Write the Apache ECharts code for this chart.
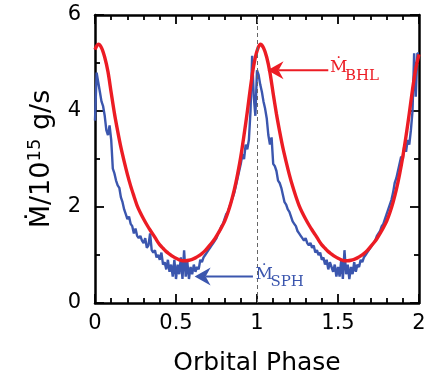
<!DOCTYPE html>
<html>
<head>
<meta charset="utf-8">
<script src="https://cdn.jsdelivr.net/npm/echarts@6/dist/echarts.min.js"></script>
<style>
  html, body { margin: 0; padding: 0; background: #fff; }
  #chart { width: 441px; height: 381px; }
</style>
</head>
<body>
<div id="chart"></div>
<script>
// Bondi-Hoyle-Lyttleton accretion rate (smooth model), sampled every 0.02 in phase
const bhlPhase = [
  0.00, 0.02, 0.04, 0.06, 0.08, 0.10, 0.12, 0.14, 0.16, 0.18,
  0.20, 0.22, 0.24, 0.26, 0.28, 0.30, 0.32, 0.34, 0.36, 0.38,
  0.40, 0.42, 0.44, 0.46, 0.48, 0.50, 0.52, 0.54, 0.56, 0.58,
  0.60, 0.62, 0.64, 0.66, 0.68, 0.70, 0.72, 0.74, 0.76, 0.78,
  0.80, 0.82, 0.84, 0.86, 0.88, 0.90, 0.92, 0.94, 0.96, 0.98,
  1.00, 1.02, 1.04, 1.06, 1.08, 1.10, 1.12, 1.14, 1.16, 1.18,
  1.20, 1.22, 1.24, 1.26, 1.28, 1.30, 1.32, 1.34, 1.36, 1.38,
  1.40, 1.42, 1.44, 1.46, 1.48, 1.50, 1.52, 1.54, 1.56, 1.58,
  1.60, 1.62, 1.64, 1.66, 1.68, 1.70, 1.72, 1.74, 1.76, 1.78,
  1.80, 1.82, 1.84, 1.86, 1.88, 1.90, 1.92, 1.94, 1.96, 1.98, 2.00
];
const bhlRate = [
  5.28, 5.39, 5.32, 5.12, 4.82, 4.38, 3.95, 3.58, 3.24, 2.95,
  2.68, 2.44, 2.23, 2.03, 1.88, 1.75, 1.63, 1.52, 1.42, 1.31,
  1.21, 1.14, 1.07, 1.02, 0.97, 0.93, 0.90, 0.88, 0.88, 0.89,
  0.91, 0.94, 0.98, 1.03, 1.09, 1.17, 1.25, 1.34, 1.45, 1.57,
  1.70, 1.88, 2.10, 2.36, 2.68, 3.05, 3.50, 3.98, 4.50, 4.95,
  5.25, 5.39, 5.32, 5.12, 4.80, 4.36, 3.94, 3.57, 3.23, 2.94,
  2.67, 2.43, 2.22, 2.03, 1.88, 1.75, 1.63, 1.52, 1.42, 1.31,
  1.21, 1.14, 1.07, 1.02, 0.97, 0.93, 0.90, 0.88, 0.88, 0.89,
  0.91, 0.94, 0.98, 1.03, 1.09, 1.17, 1.25, 1.34, 1.45, 1.57,
  1.70, 1.88, 2.10, 2.36, 2.68, 3.05, 3.48, 3.95, 4.45, 4.88, 5.18
];

// SPH accretion rate, histogram with bins of width 0.01 in phase (0 .. 2)
const sphBinWidth = 0.01;
const sphRate = [
  // 0.00 - 0.99
  3.8, 4.8, 4.6, 4.4, 4.2, 4.1, 3.9, 3.6, 3.5, 3.7,
  3.4, 2.8, 2.7, 2.55, 2.45, 2.4, 2.2, 2.1, 1.95, 1.85,
  1.75, 1.8, 1.65, 1.6, 1.45, 1.55, 1.4, 1.35, 1.4, 1.3,
  1.25, 1.35, 1.15, 1.2, 1.45, 1.1, 1.05, 1.1, 0.95, 1.0,
  0.9, 1.05, 0.8, 0.85, 0.7, 0.9, 0.65, 0.8, 0.55, 0.9,
  0.5, 0.8, 0.6, 0.95, 0.5, 1.1, 0.55, 0.85, 0.5, 0.75,
  0.6, 0.8, 0.65, 0.75, 0.7, 0.9, 0.85, 0.95, 1.0, 1.05,
  1.1, 1.15, 1.2, 1.25, 1.3, 1.35, 1.45, 1.5, 1.6, 1.65,
  1.75, 1.85, 1.9, 2.0, 2.1, 2.2, 2.3, 2.45, 2.6, 2.75,
  2.9, 3.1, 3.0, 3.3, 3.2, 3.4, 4.0, 5.15, 4.3, 3.9,
  // 1.00 - 1.99
  4.85, 4.75, 4.55, 4.4, 4.2, 4.05, 3.85, 3.5, 3.3, 3.45,
  2.9, 2.85, 2.75, 2.55, 2.5, 2.4, 2.25, 2.1, 2.05, 1.95,
  1.9, 1.8, 1.7, 1.65, 1.6, 1.5, 1.45, 1.4, 1.35, 1.3,
  1.35, 1.25, 1.2, 1.25, 1.15, 1.2, 1.05, 1.1, 1.0, 1.05,
  0.9, 0.95, 0.8, 0.9, 0.7, 0.85, 0.75, 0.65, 0.8, 0.55,
  0.75, 0.55, 0.9, 0.5, 1.1, 0.6, 0.8, 0.5, 0.75, 0.6,
  0.85, 0.65, 0.8, 0.75, 0.9, 0.85, 0.95, 1.0, 1.05, 1.1,
  1.15, 1.2, 1.25, 1.3, 1.4, 1.45, 1.5, 1.6, 1.65, 1.75,
  1.85, 1.95, 2.05, 2.15, 2.3, 2.5, 2.6, 2.75, 2.9, 3.05,
  3.0, 3.3, 3.15, 3.4, 3.3, 3.6, 4.0, 5.2, 4.3, 5.2
];

const xTicks = [0, 0.5, 1, 1.5, 2];
const yTicks = [0, 2, 4, 6];

const RED = '#ec1c24';
const BLUE = '#3b56ae';
const FONT = 'DejaVu Sans';

// Step-line points: each bin holds its value until the next bin edge
const sphPoints = sphRate.map((v, i) => [+(i * sphBinWidth).toFixed(2), v]);
sphPoints.push([2, sphRate[sphRate.length - 1]]);
const bhlPoints = bhlPhase.map((p, i) => [p, bhlRate[i]]);

const chart = echarts.init(document.getElementById('chart'), null, { renderer: 'canvas' });

const axisCommon = {
  axisLine: { show: true, onZero: false, lineStyle: { color: '#000', width: 2.5 } },
  splitLine: { show: false },
  axisTick: { show: true, inside: true, length: 9, lineStyle: { color: '#000', width: 1.8 } },
  minorTick: { show: true, length: 5, lineStyle: { color: '#000', width: 1.8 } }
};

chart.setOption({
  animation: false,
  backgroundColor: '#fff',
  grid: { left: 95, right: 22, top: 15, bottom: 69, containLabel: false },
  xAxis: [
    Object.assign({}, axisCommon, {
      type: 'value', position: 'bottom', min: 0, max: 2, interval: 0.5,
      minorTick: Object.assign({}, axisCommon.minorTick, { splitNumber: 5 }),
      axisLabel: {
        show: true, margin: 10, color: '#000', fontFamily: FONT, fontSize: 21,
        formatter: v => (xTicks.includes(v) ? String(v) : '')
      },
      name: 'Orbital Phase', nameLocation: 'middle', nameGap: 48,
      nameTextStyle: { color: '#000', fontFamily: FONT, fontSize: 25 }
    }),
    Object.assign({}, axisCommon, {
      type: 'value', position: 'top', min: 0, max: 2, interval: 0.5,
      minorTick: Object.assign({}, axisCommon.minorTick, { splitNumber: 5 }),
      axisLabel: { show: false }
    })
  ],
  yAxis: [
    Object.assign({}, axisCommon, {
      type: 'value', position: 'left', min: 0, max: 6, interval: 2,
      minorTick: Object.assign({}, axisCommon.minorTick, { splitNumber: 2 }),
      axisLabel: {
        show: true, margin: 14, color: '#000', fontFamily: FONT, fontSize: 21,
        formatter: v => (yTicks.includes(v) ? String(v) : '')
      },
      name: 'Ṁ/10{sup|15} g/s', nameLocation: 'middle', nameGap: 37,
      nameTextStyle: {
        color: '#000', fontFamily: FONT, fontSize: 27,
        rich: {
          sup: { fontFamily: FONT, fontSize: 18, color: '#000', verticalAlign: 'top', lineHeight: 32 }
        }
      }
    }),
    Object.assign({}, axisCommon, {
      type: 'value', position: 'right', min: 0, max: 6, interval: 2,
      minorTick: Object.assign({}, axisCommon.minorTick, { splitNumber: 2 }),
      axisLabel: { show: false }
    })
  ],
  series: [
    {
      name: 'SPH',
      type: 'line',
      step: 'end',
      data: sphPoints,
      showSymbol: false,
      lineStyle: { color: BLUE, width: 2.4 },
      z: 2,
      markLine: {
        silent: true,
        symbol: ['none', 'none'],
        label: { show: false },
        lineStyle: { color: '#666', type: [4, 3], width: 1 },
        data: [{ xAxis: 1 }]
      }
    },
    {
      name: 'BHL',
      type: 'line',
      data: bhlPoints,
      smooth: 0.3,
      showSymbol: false,
      lineStyle: { color: RED, width: 3.4 },
      z: 3
    }
  ]
});

// Labels with arrows, anchored in data coordinates
const notes = [
  { color: RED, tip: [1.065, 4.85], tail: [1.44, 4.85], text: [1.45, 4.72], sub: 'BHL' },
  { color: BLUE, tip: [0.615, 0.55], tail: [0.975, 0.55], text: [0.99, 0.42], sub: 'SPH' }
];

function arrowGraphics() {
  const els = [];
  notes.forEach(n => {
    const t = chart.convertToPixel({ xAxisIndex: 0, yAxisIndex: 0 }, n.tip);
    const b = chart.convertToPixel({ xAxisIndex: 0, yAxisIndex: 0 }, n.tail);
    const p = chart.convertToPixel({ xAxisIndex: 0, yAxisIndex: 0 }, n.text);
    const headLen = 16, halfW = 9, notch = 5;
    els.push({
      type: 'line', z: 10,
      shape: { x1: t[0] + headLen - notch, y1: t[1], x2: b[0], y2: b[1] },
      style: { stroke: n.color, lineWidth: 2 }
    });
    els.push({
      type: 'polygon', z: 10,
      shape: { points: [
        [t[0], t[1]],
        [t[0] + headLen, t[1] - halfW],
        [t[0] + headLen - notch, t[1]],
        [t[0] + headLen, t[1] + halfW]
      ] },
      style: { fill: n.color }
    });
    els.push({
      type: 'text', z: 10, x: p[0], y: p[1],
      style: { text: 'Ṁ', fill: n.color, font: '17px "DejaVu Serif"', textAlign: 'left', textVerticalAlign: 'bottom' }
    });
    els.push({
      type: 'text', z: 10, x: p[0] + 15, y: p[1] + 7,
      style: { text: n.sub, fill: n.color, font: '15px "DejaVu Serif"', textAlign: 'left', textVerticalAlign: 'bottom' }
    });
  });
  return els;
}

chart.setOption({ graphic: arrowGraphics() });
</script>
</body>
</html>
